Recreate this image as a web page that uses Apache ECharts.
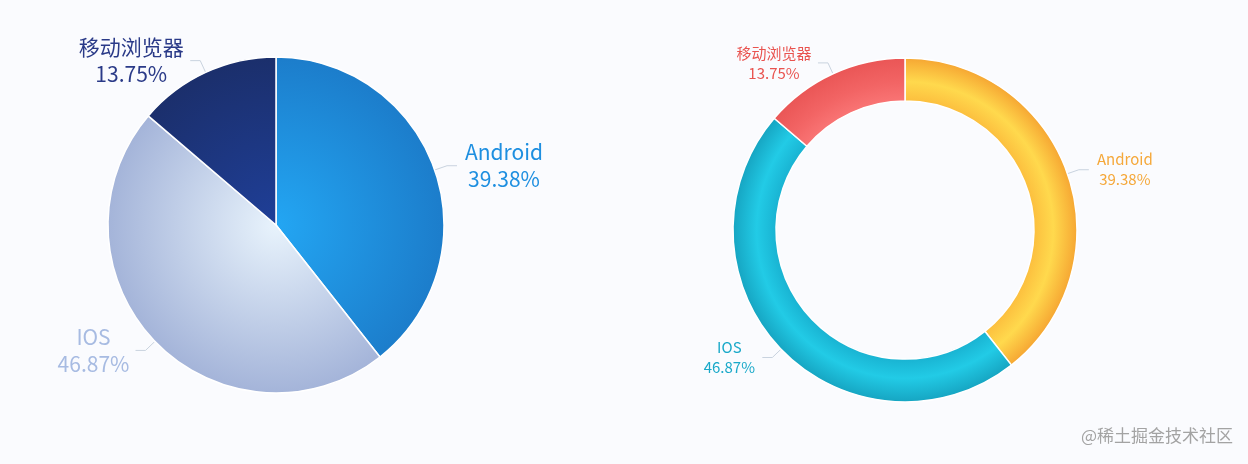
<!DOCTYPE html>
<html lang="zh">

<head>
    <meta charset="UTF-8">
    <title>终端占比</title>
    <script src="https://cdnjs.cloudflare.com/ajax/libs/echarts/6.0.0/echarts.min.js"></script>
    <style>
        html, body { margin: 0; padding: 0; background: #fafbfe; }
    </style>
</head>

<body>
    <div id="main" style="width: 1248px;height:464px;"></div>

    <script>
        // 数据
        const names = ['Android', 'IOS', '移动浏览器'];
        const values = [39.38, 46.87, 13.75];

        // 左边饼图颜色 [中心, 边缘], 标签色
        const pieColors = [['#23a6f3', '#1c7dcb'], ['#e8f3fc', '#a4b4d9'], ['#1f3f98', '#1b2f6c']];
        const pieLabelColors = ['#1e8fe0', '#a7bbe2', '#2a3a88'];
        const pieLabelW = [84, 74, 108];
        // 右边环形图颜色 [内, 中, 外], 标签色
        const ringColors = [['#fcbf3e', '#ffd94d', '#f6a733'], ['#19b3d2', '#22cbe6', '#16a5c2'], ['#f97474', '#f26464', '#ea5656']];
        const ringLabelColors = ['#f5a83a', '#1aa9c9', '#e9534f'];
        const ringLabelW = [62, 56, 78];

        const pieC = [276, 225], pieR = 168;
        const ringC = [905, 230], ringR = [129, 172];

        function radial(c, r, stops) {
            return {
                type: 'radial', x: c[0], y: c[1], r: r, global: true,
                colorStops: stops.map(s => ({ offset: s[0], color: s[1] }))
            };
        }

        // 每个标签两行居中
        function richOf(colors, widths) {
            const rich = {};
            colors.forEach((c, i) => { rich['n' + i] = { color: c, width: widths[i], align: 'center' }; });
            return rich;
        }
        const fmt = p => `{n${p.dataIndex}|${p.name}}\n{n${p.dataIndex}|${p.percent}%}`;

        const pieData = names.map((n, i) => ({
            name: n, value: values[i],
            itemStyle: { color: radial(pieC, pieR, [[0, pieColors[i][0]], [1, pieColors[i][1]]]) }
        }));
        const k = ringR[0] / ringR[1];
        const ringData = names.map((n, i) => ({
            name: n, value: values[i],
            itemStyle: { color: radial(ringC, ringR[1], [[0, ringColors[i][0]], [k, ringColors[i][0]], [k + (1 - k) * 0.45, ringColors[i][1]], [1, ringColors[i][2]]]) }
        }));

        const myChart = echarts.init(document.getElementById('main'));
        const option = {
            backgroundColor: '#fafbfe',
            animation: false,
            graphic: [{
                type: 'text', right: 15, top: 427,
                style: { text: '@稀土掘金技术社区', fill: '#a3a3a3', font: '17px "Noto Sans CJK SC"' }
            }],
            series: [
                {
                    type: 'pie',
                    center: pieC,
                    radius: pieR,
                    startAngle: 90,
                    itemStyle: { borderColor: '#ffffff', borderWidth: 1.5 },
                    label: {
                        formatter: fmt,
                        fontSize: 21,
                        lineHeight: 27,
                        fontFamily: '"Noto Sans CJK SC"',
                        rich: richOf(pieLabelColors, pieLabelW)
                    },
                    labelLine: { length: 13, length2: 10, lineStyle: { color: '#c9d3df', width: 1 } },
                    data: pieData
                },
                {
                    type: 'pie',
                    center: ringC,
                    radius: ringR,
                    startAngle: 90,
                    itemStyle: { borderColor: '#ffffff', borderWidth: 1.5 },
                    label: {
                        formatter: fmt,
                        fontSize: 15,
                        lineHeight: 20,
                        fontFamily: '"Noto Sans CJK SC"',
                        rich: richOf(ringLabelColors, ringLabelW)
                    },
                    labelLine: { length: 12, length2: 10, lineStyle: { color: '#c9d3df', width: 1 } },
                    data: ringData
                }
            ]
        };
        myChart.setOption(option);
    </script>
</body>

</html>
